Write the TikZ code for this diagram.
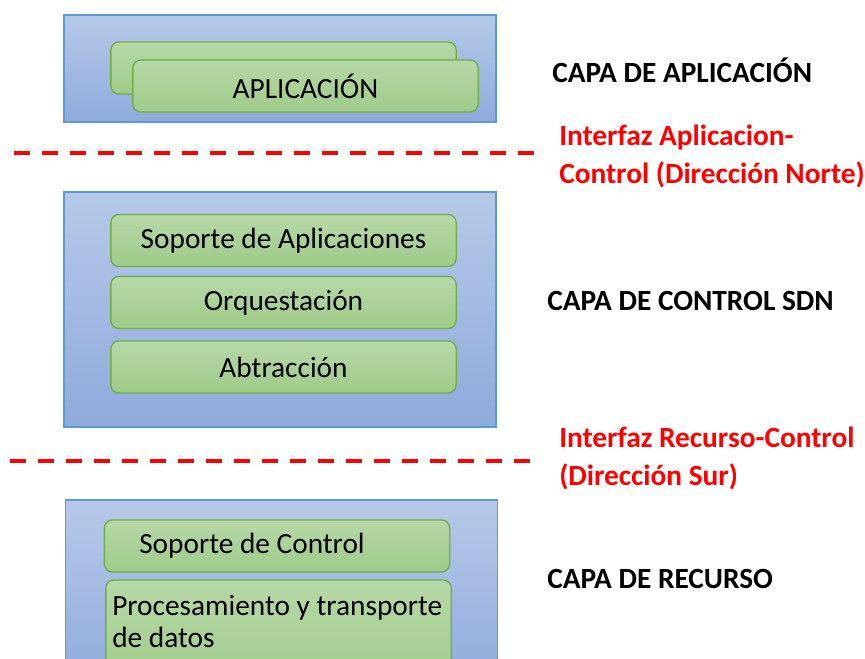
\documentclass[tikz,border=0pt]{standalone}
\usepackage{fontspec}
\setmainfont{Carlito}
\definecolor{capaarriba}{RGB}{182,201,232}
\definecolor{capaabajo}{RGB}{143,170,220}
\definecolor{capaborde}{RGB}{91,155,213}
\definecolor{moduloarriba}{RGB}{183,216,167}
\definecolor{moduloabajo}{RGB}{159,203,137}
\definecolor{moduloborde}{RGB}{112,173,71}
\definecolor{rojo}{RGB}{255,0,0}

\begin{document}
\begin{tikzpicture}[x=0.75pt,y=-0.75pt,
    capa/.style={draw=capaborde,line width=0.8pt,top color=capaarriba,bottom color=capaabajo,minimum width=324pt,inner sep=0pt},
    modulo/.style={draw=moduloborde,line width=1pt,rounded corners=6pt,top color=moduloarriba,bottom color=moduloabajo,minimum width=259pt,minimum height=39pt,inner sep=0pt,font=\fontsize{22}{24}\selectfont},
    texto/.style={inner sep=0pt,font=\fontsize{22}{24}\selectfont},
    titulo/.style={anchor=west,inner sep=0pt,font=\fontsize{22}{24}\selectfont\bfseries},
    interfaz/.style={anchor=west,align=left,inner sep=0pt,text=rojo,font=\fontsize{22}{28.5}\selectfont\bfseries},
    corte/.style={rojo,line width=3pt,dash pattern=on 12pt off 9pt}]
    \clip (0,0) rectangle (865,659);

    % Capa de aplicacion
    \node[capa,minimum height=80.25pt] (capaapp) at (280,68.5) {};
    \node[modulo] (appatras) at (283.5,68) {};
    \node[modulo] (app) at (305.5,86) {APLICACIÓN};

    % Capa de control
    \node[capa,minimum height=176.25pt] (capactl) at (280,309.5) {};
    \node[modulo] (soporteapp) at (283.5,240.5) {Soporte de Aplicaciones};
    \node[modulo] (orquesta) at (283.5,302.5) {Orquestación};
    \node[modulo] (abstrae) at (283.5,367) {Abtracción};

    % Capa de recurso (cortada abajo)
    \node[capa,minimum height=142.5pt] (capares) at (281.5,595) {};
    \node[modulo] (soportectl) at (277,546) {};
    \node[modulo,minimum height=82.5pt] (procesa) at (278.5,635) {};
    \node[texto,anchor=west] (soportectltxt) at (139,546) {Soporte de Control};
    \node[texto,anchor=west,align=left] (procesatxt) at (112,622) {Procesamiento y transporte\\de datos};

    % Nombres de las capas
    \node[titulo] (tituloapp) at (552,70) {CAPA DE APLICACIÓN};
    \node[titulo] (tituloctl) at (547,301) {CAPA DE CONTROL SDN};
    \node[titulo] (titulores) at (547,579) {CAPA DE RECURSO};

    % Interfaces
    \draw[corte] (14,153) -- (535,153);
    \draw[corte] (10,461) -- (530,461);
    \node[interfaz] (norte) at (559,156) {Interfaz Aplicacion-\\Control (Dirección Norte)};
    \node[interfaz] (sur) at (559,458) {Interfaz Recurso-Control\\(Dirección Sur)};
\end{tikzpicture}
\end{document}
